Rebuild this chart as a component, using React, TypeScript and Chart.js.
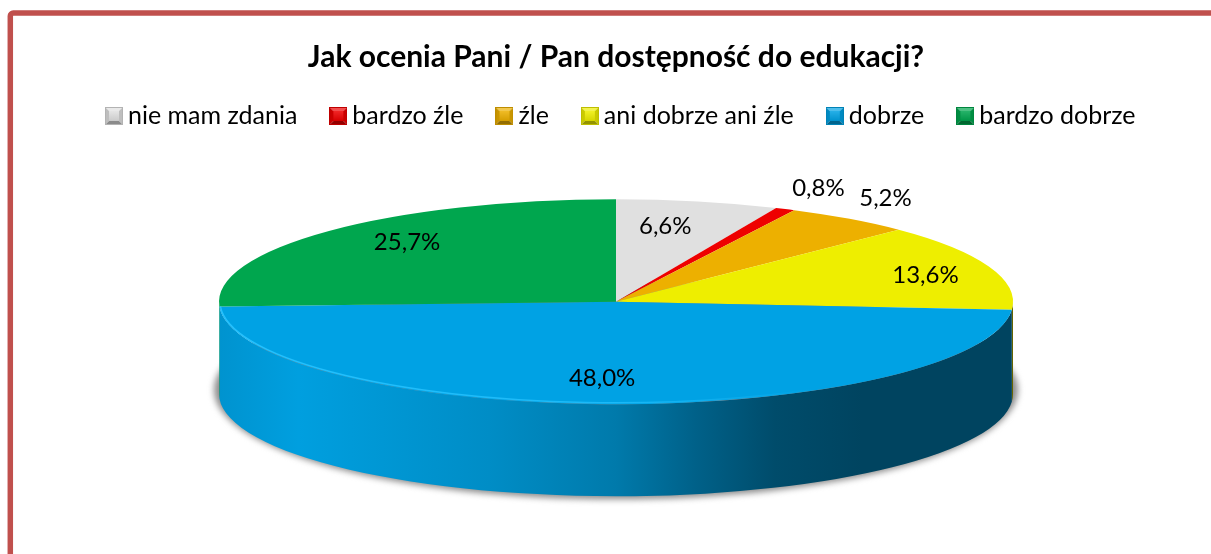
import React, { useEffect, useRef } from "react";
import { Chart, registerables } from "chart.js";

Chart.register(...registerables);

const titleText = "Jak ocenia Pani / Pan dostępność do edukacji?";
const categories = ["nie mam zdania", "bardzo źle", "źle", "ani dobrze ani źle", "dobrze", "bardzo dobrze"];
const values = [6.6, 0.8, 5.2, 13.6, 48.0, 25.7];
const colours = ["#E0E0E0", "#EE0000", "#EDB000", "#EEEE00", "#00A2E4", "#00A64E"];

const FONT = "Lato, 'Open Sans', sans-serif";
const LABEL_SIZE = 24;
const LEGEND_SIZE = 25;
const LEGEND_LIFT = 11;
const LEGEND_SHIFT = 8;
const RX = 397;
const RY = 102.5;
const DEPTH = 92;
const labelNudges: [number, number][] = [
  [-8, -5],
  [84, -49],
  [106, -45],
  [48.5, -2],
  [-9.5, 5],
  [-8, -10],
];

function shade(hex: string, f: number) {
  const n = parseInt(hex.slice(1), 16);
  const c = [(n >> 16) & 255, (n >> 8) & 255, n & 255].map((v) => Math.round(v * f));
  return `rgb(${c[0]},${c[1]},${c[2]})`;
}

function lighten(hex: string, t: number) {
  const n = parseInt(hex.slice(1), 16);
  const c = [(n >> 16) & 255, (n >> 8) & 255, n & 255].map((v) => Math.round(v + (255 - v) * t));
  return `rgb(${c[0]},${c[1]},${c[2]})`;
}

function makeIcon(col: string) {
  const s = 18;
  const b = 4;
  const cv = document.createElement("canvas");
  cv.width = s;
  cv.height = s;
  const c = cv.getContext("2d")!;
  const poly = (pts: number[][], fill: string) => {
    c.beginPath();
    pts.forEach((p, i) => (i ? c.lineTo(p[0], p[1]) : c.moveTo(p[0], p[1])));
    c.closePath();
    c.fillStyle = fill;
    c.fill();
  };
  poly([[0, 0], [s, 0], [s - b, b], [b, b]], lighten(col, 0.3));
  poly([[0, 0], [b, b], [b, s - b], [0, s]], shade(col, 0.85));
  poly([[s, 0], [s - b, b], [s - b, s - b], [s, s]], shade(col, 0.85));
  poly([[0, s], [b, s - b], [s - b, s - b], [s, s]], shade(col, 0.62));
  const g = c.createLinearGradient(0, b, 0, s - b);
  g.addColorStop(0, lighten(col, 0.15));
  g.addColorStop(1, shade(col, 0.9));
  c.fillStyle = g;
  c.fillRect(b, b, s - 2 * b, s - 2 * b);
  c.strokeStyle = shade(col, 0.8);
  c.lineWidth = 1;
  c.strokeRect(0.5, 0.5, s - 1, s - 1);
  return cv;
}

const framePlugin = {
  id: "frame",
  afterLayout(chart: any) {
    chart.legend.top -= LEGEND_LIFT;
    chart.legend.bottom -= LEGEND_LIFT;
    chart.legend.left += LEGEND_SHIFT;
    chart.legend.right += LEGEND_SHIFT;
  },
  beforeDraw(chart: any) {
    const { ctx } = chart;
    ctx.save();
    ctx.fillStyle = "#FFFFFF";
    ctx.fillRect(0, 0, chart.width, chart.height);
    ctx.strokeStyle = "#C0504D";
    ctx.lineWidth = 5.5;
    ctx.beginPath();
    ctx.roundRect(10.3, 13, 1400, 800, 3);
    ctx.stroke();
    ctx.restore();
  },
};

const tiltPlugin = {
  id: "tilt",
  beforeDatasetsDraw(chart: any) {
    const { ctx } = chart;
    const arcs = chart.getDatasetMeta(0).data;
    const { x: cx, y: cy, outerRadius: R } = arcs[0];

    ctx.save();
    ctx.filter = "blur(3px)";
    ctx.fillStyle = "#8c8c8c";
    ctx.beginPath();
    ctx.ellipse(cx, cy + DEPTH - 4, RX + 5, RY + 7, 0, 0, Math.PI * 2);
    ctx.fill();
    ctx.restore();

    arcs.forEach((arc: any, i: number) => {
      const a = Math.max(arc.startAngle, 0);
      const b = Math.min(arc.endAngle, Math.PI);
      if (b <= a) return;
      const g = ctx.createLinearGradient(cx - RX, 0, cx + RX, 0);
      const base = colours[i];
      const stops: [number, number][] = [
        [0, 0.91],
        [0.1, 0.98],
        [0.34, 0.87],
        [0.5, 0.75],
        [0.6, 0.6],
        [0.7, 0.47],
        [0.81, 0.42],
        [1, 0.42],
      ];
      stops.forEach(([p, f]) => g.addColorStop(p, shade(base, f)));
      ctx.fillStyle = g;
      ctx.beginPath();
      ctx.ellipse(cx, cy, RX, RY, 0, a, b);
      ctx.ellipse(cx, cy + DEPTH, RX, RY, 0, b, a, true);
      ctx.closePath();
      ctx.fill();
    });

    ctx.save();
    ctx.translate(cx, cy);
    ctx.scale(RX / R, RY / R);
    ctx.translate(-cx, -cy);
  },
  afterDatasetsDraw(chart: any) {
    const { ctx } = chart;
    ctx.restore();
    const arcs = chart.getDatasetMeta(0).data;
    const { x: cx, y: cy } = arcs[0];

    // bright rim along the front edge of the top face
    const arc = arcs[4];
    const rim = ctx.createLinearGradient(cx - RX, 0, cx + RX, 0);
    rim.addColorStop(0, "rgba(40,195,255,0.95)");
    rim.addColorStop(0.5, "rgba(40,195,255,0.7)");
    rim.addColorStop(0.75, "rgba(40,195,255,0)");
    rim.addColorStop(1, "rgba(40,195,255,0)");
    ctx.save();
    ctx.strokeStyle = rim;
    ctx.lineWidth = 1.5;
    ctx.beginPath();
    ctx.ellipse(cx, cy, RX - 1, RY - 1.5, 0, Math.max(arc.startAngle, 0), Math.min(arc.endAngle, Math.PI));
    ctx.stroke();
    ctx.restore();

    // value labels
    ctx.save();
    ctx.fillStyle = "#000000";
    ctx.font = `${LABEL_SIZE}px ${FONT}`;
    ctx.textAlign = "center";
    ctx.textBaseline = "middle";
    arcs.forEach((el: any, i: number) => {
      const mid = (el.startAngle + el.endAngle) / 2;
      const x = cx + RX * 0.7 * Math.cos(mid) + labelNudges[i][0];
      const y = cy + RY * 0.7 * Math.sin(mid) + labelNudges[i][1];
      ctx.fillText(values[i].toFixed(1).replace(".", ",") + "%", x, y);
    });
    ctx.restore();
  },
};

export default function App() {
  const ref = useRef<HTMLCanvasElement | null>(null);
  useEffect(() => {
    const icons = colours.map(makeIcon);
    const chart = new Chart(ref.current!, {
      type: "pie",
      data: {
        labels: categories,
        datasets: [{ data: values, backgroundColor: colours, borderWidth: 0, clip: false } as any],
      },
      options: {
        responsive: false,
        animation: false,
        events: [],
        layout: { padding: { left: 21, right: 0, top: 0, bottom: 100 } },
        plugins: {
          tooltip: { enabled: false },
          title: {
            display: true,
            text: titleText,
            color: "#000000",
            font: { family: FONT, size: 30, weight: "bold" },
            padding: { top: 39, bottom: 0 },
          },
          legend: {
            display: true,
            position: "top",
            labels: {
              color: "#000000",
              font: { family: FONT, size: LEGEND_SIZE },
              usePointStyle: true,
              pointStyleWidth: 3,
              padding: 39.5,
              generateLabels: () =>
                categories.map((text, i) => ({
                  text,
                  pointStyle: icons[i],
                  fillStyle: colours[i],
                  strokeStyle: colours[i],
                  lineWidth: 0,
                  hidden: false,
                  index: i,
                  datasetIndex: 0,
                })),
            },
          },
        },
      } as any,
      plugins: [framePlugin, tiltPlugin],
    });
    return () => chart.destroy();
  }, []);
  return (
    <div style={{ position: "fixed", left: 0, top: 0, width: 1211, height: 554, overflow: "hidden" }}>
      <canvas ref={ref} width={1211} height={554} style={{ display: "block" }} />
    </div>
  );
}
